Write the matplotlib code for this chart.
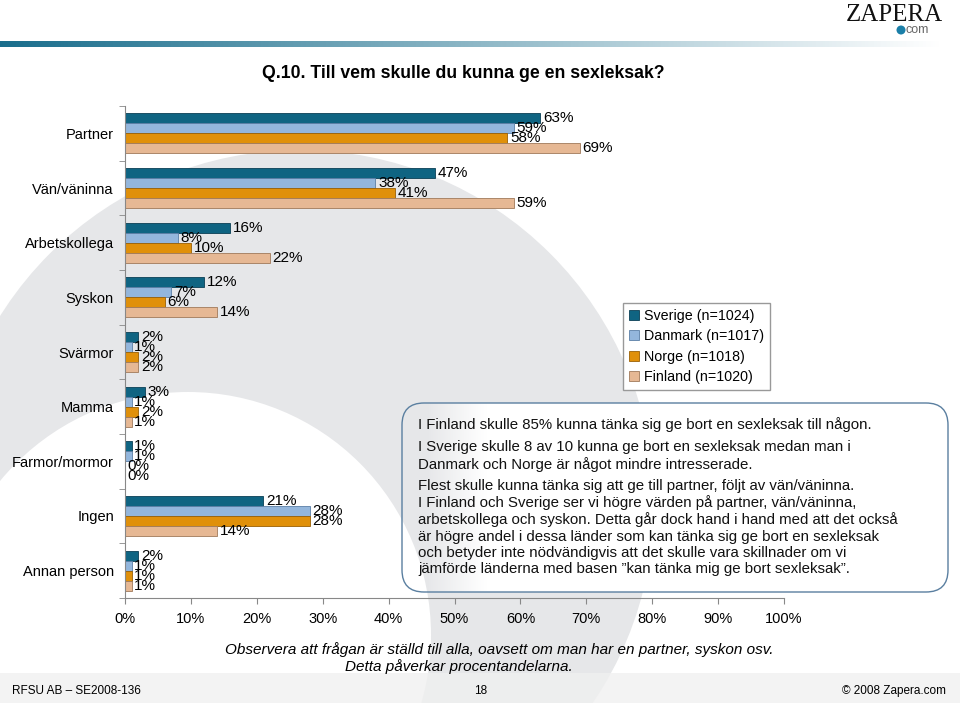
import numpy as np
import matplotlib.pyplot as plt
from matplotlib.patches import Circle, FancyBboxPatch, Rectangle

plt.rcParams['font.family'] = ['Liberation Sans', 'DejaVu Sans']

categories = ["Partner", "Vän/väninna", "Arbetskollega", "Syskon", "Svärmor",
              "Mamma", "Farmor/mormor", "Ingen", "Annan person"]
series = ["Sverige (n=1024)", "Danmark (n=1017)", "Norge (n=1018)", "Finland (n=1020)"]
sverige = [63, 47, 16, 12, 2, 3, 1, 21, 2]
danmark = [59, 38, 8, 7, 1, 1, 1, 28, 1]
norge = [58, 41, 10, 6, 2, 2, 0, 28, 1]
finland = [69, 59, 22, 14, 2, 1, 0, 14, 1]
xticks = [0, 10, 20, 30, 40, 50, 60, 70, 80, 90, 100]

colors = ['#0f6482', '#93b6dc', '#e0900a', '#e6b894']
edges = ['#0a3f55', '#5b7fa6', '#9a6005', '#a07a5a']

W, H = 960, 703
fig = plt.figure(figsize=(W / 100, H / 100), dpi=100)

# background decoration in pixel coordinates
bg = fig.add_axes([0, 0, 1, 1], zorder=0)
bg.set_xlim(0, W)
bg.set_ylim(H, 0)
bg.axis('off')
bg.add_patch(Circle((300, 504), 354, color='#e6e7e9', lw=0))
bg.add_patch(Circle((188, 635), 243, color='white', lw=0))
bg.add_patch(Rectangle((0, 673), W, 30, color='#f0f0f0', lw=0, alpha=0.8))

# gradient bar at the top
grad = np.linspace(0, 1, 400)
top = np.zeros((1, 400, 4))
top[0, :, 0] = 0.10 + 0.9 * grad
top[0, :, 1] = 0.43 + 0.57 * grad
top[0, :, 2] = 0.55 + 0.45 * grad
top[0, :, 3] = 1
bg.imshow(top, extent=(0, 940, 47, 41), aspect='auto', zorder=2)

# zapera logo
bg.text(894, 21, "ZAPERA", family='Liberation Serif', fontsize=18, ha='center',
        va='baseline', color='#111111')
bg.add_patch(Circle((901, 30), 4.5, color='#1a7fa8', lw=0))
bg.text(906, 30, "com", fontsize=9, color='#666666', va='center', ha='left')

# text box
box = FancyBboxPatch((402, 403), 546, 189, boxstyle="round,pad=0,rounding_size=22",
                     fc='none', ec='#5a7fa0', lw=1.0, zorder=4)
bg.add_patch(box)
fill = np.ones((1, 300, 4))
xx = np.linspace(402, 948, 300)
fill[0, :, 3] = np.clip((xx - 425) / 60, 0, 1)
im = bg.imshow(fill, extent=(402, 948, 592, 403), aspect='auto', zorder=3)
im.set_clip_path(box)

box_lines = [
    (425, "I Finland skulle 85% kunna tänka sig ge bort en sexleksak till någon."),
    (447, "I Sverige skulle 8 av 10 kunna ge bort en sexleksak medan man i"),
    (465, "Danmark och Norge är något mindre intresserade."),
    (486, "Flest skulle kunna tänka sig att ge till partner, följt av vän/väninna."),
    (503, "I Finland och Sverige ser vi högre värden på partner, vän/väninna,"),
    (520, "arbetskollega och syskon. Detta går dock hand i hand med att det också"),
    (537, "är högre andel i dessa länder som kan tänka sig ge bort en sexleksak"),
    (553, "och betyder inte nödvändigvis att det skulle vara skillnader om vi"),
    (569, "jämförde länderna med basen \u201dkan tänka mig ge bort sexleksak\u201d."),
]
for y, s in box_lines:
    bg.text(418, y, s, fontsize=10.8, va='center', ha='left', color='#111111', zorder=5)

# title and notes
bg.text(463, 73, "Q.10. Till vem skulle du kunna ge en sexleksak?", fontsize=12.7,
        fontweight='bold', ha='center', va='center')
bg.text(499, 650, "Observera att frågan är ställd till alla, oavsett om man har en partner, syskon osv.",
        fontsize=11, style='italic', ha='center', va='center')
bg.text(459, 667, "Detta påverkar procentandelarna.", fontsize=11, style='italic',
        ha='center', va='center')
bg.text(12, 691, "RFSU AB \u2013 SE2008-136", fontsize=8.5, ha='left', va='center')
bg.text(481, 691, "18", fontsize=8.5, ha='center', va='center')
bg.text(946, 691, "\u00a9 2008 Zapera.com", fontsize=8.5, ha='right', va='center')

# main chart
ax = fig.add_axes([125 / W, 1 - 598 / H, 659 / W, (598 - 106) / H], zorder=1)
ax.patch.set_alpha(0)
h = 10 / 54.67
y = np.arange(len(categories))
handles = []
for i, vals in enumerate([sverige, danmark, norge, finland]):
    pos = y + (i - 1.5) * h
    b = ax.barh(pos, vals, height=h, color=colors[i], edgecolor=edges[i], lw=0.6,
                label=series[i])
    handles.append(b)
    for p, v in zip(pos, vals):
        ax.text(v + 0.4, p, f"{v}%", va='center', ha='left', fontsize=11)

ax.set_xlim(0, 100)
ax.set_ylim(len(categories) - 0.5, -0.5)
ax.set_yticks(y)
ax.set_yticklabels(categories, fontsize=10.5)
ax.set_yticks(np.arange(-0.5, len(categories)), minor=True)
ax.tick_params(axis='y', which='major', length=0, pad=8)
ax.tick_params(axis='y', which='minor', length=4, color='#888888')
ax.set_xticks(xticks)
ax.set_xticklabels([f"{t}%" for t in xticks], fontsize=10.5)
ax.tick_params(axis='x', length=4, color='#888888', pad=6)
for s in ['top', 'right']:
    ax.spines[s].set_visible(False)
for s in ['left', 'bottom']:
    ax.spines[s].set_color('#888888')
    ax.spines[s].set_linewidth(0.8)

ax.legend(handles=handles, loc='upper left', bbox_to_anchor=(623 / W, 1 - 303 / H),
          bbox_transform=fig.transFigure, fontsize=10.3, frameon=True, fancybox=False,
          edgecolor='#999999', framealpha=1, handlelength=0.7, handleheight=0.7,
          handletextpad=0.4, labelspacing=0.45, borderpad=0.4, borderaxespad=0)

fig.savefig('out.png', dpi=100)
